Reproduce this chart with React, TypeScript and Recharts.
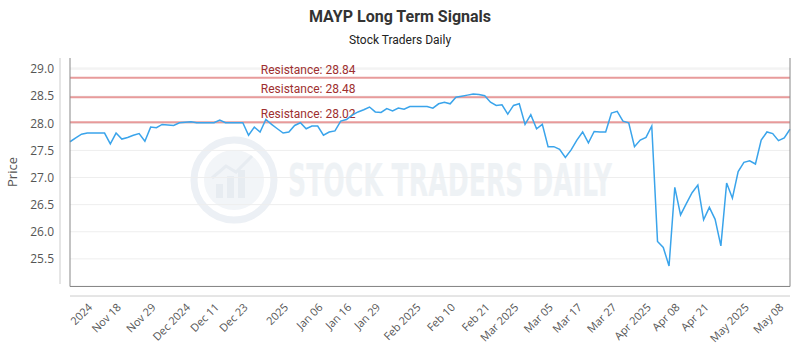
import React from 'react';
import {
    LineChart, Line, XAxis, YAxis, CartesianGrid, ReferenceLine,
} from 'recharts';

// daily closes (index = trading day)
const prices = [
    27.66, 27.73, 27.80, 27.82, 27.82, 27.82, 27.82, 27.62, 27.82, 27.71,
    27.74, 27.78, 27.81, 27.67, 27.93, 27.92, 27.98, 27.97, 27.96, 28.01,
    28.02, 28.03, 28.01, 28.01, 28.01, 28.01, 28.06, 28.01, 28.01, 28.01,
    28.01, 27.78, 27.93, 27.84, 28.07, 27.98, 27.90, 27.82, 27.84, 27.96,
    28.01, 27.90, 27.95, 27.95, 27.78, 27.84, 27.86, 28.04, 28.07, 28.15,
    28.21, 28.25, 28.30, 28.21, 28.20, 28.27, 28.23, 28.28, 28.26, 28.31,
    28.31, 28.31, 28.31, 28.28, 28.36, 28.39, 28.36, 28.48, 28.50, 28.52,
    28.54, 28.53, 28.51, 28.39, 28.33, 28.34, 28.17, 28.33, 28.36, 27.98,
    28.16, 27.90, 27.98, 27.57, 27.57, 27.52, 27.37, 27.51, 27.69, 27.84,
    27.64, 27.85, 27.84, 27.84, 28.19, 28.22, 28.04, 28.01, 27.57, 27.69,
    27.74, 27.95, 25.82, 25.71, 25.37, 26.82, 26.31, 26.52, 26.72, 26.86,
    26.22, 26.45, 26.23, 25.74, 26.90, 26.62, 27.11, 27.28, 27.31, 27.25,
    27.69, 27.84, 27.81, 27.68, 27.73, 27.89,
];

const tickIdx = [4, 9, 15, 21, 26, 31, 38, 44, 49, 54, 61, 67, 73, 78, 84, 89, 95, 101, 106, 111, 118, 124];
const tickLabels = [
    '2024', 'Nov 18', 'Nov 29', 'Dec 2024', 'Dec 11', 'Dec 23', '2025', 'Jan 06',
    'Jan 16', 'Jan 29', 'Feb 2025', 'Feb 10', 'Feb 21', 'Mar 2025', 'Mar 05',
    'Mar 17', 'Mar 27', 'Apr 2025', 'Apr 08', 'Apr 21', 'May 2025', 'May 08',
];

const yTicks = [25.5, 26, 26.5, 27, 27.5, 28, 28.5, 29];
const resistance = [28.84, 28.48, 28.02];

const data = prices.map((p, i) => ({ i, price: p }));

const FONT = '"Open Sans", sans-serif';

const XTick = ({ x, y, payload }: any) => {
    const label = tickLabels[tickIdx.indexOf(payload.value)] ?? '';
    const ty = Number(y) + 14;
    return (
        <text
            x={Number(x)}
            y={ty}
            textAnchor="end"
            fill="#555"
            fontSize={11}
            fontFamily={FONT}
            transform={`rotate(-45, ${Number(x)}, ${ty})`}
        >
            {label}
        </text>
    );
};

const ResLabel = ({ viewBox, value }: any) => {
    if (!viewBox) return null;
    return (
        <text
            x={viewBox.x + viewBox.width * 0.265}
            y={viewBox.y - 4}
            fill="#9e2f2f"
            fontSize={12}
            fontFamily="Roboto, sans-serif"
        >
            {`Resistance: ${value.toFixed(2)}`}
        </text>
    );
};

function Backdrop() {
    return (
        <svg width={800} height={350} style={{ position: 'absolute', left: 0, top: 0 }}>
            {/* watermark */}
            <g opacity={0.7}>
                <circle cx={234} cy={180} r={40} fill="none" stroke="#e4eaf1" strokeWidth={7} />
                <circle cx={234} cy={180} r={30} fill="#edf1f6" />
                <rect x={216} y={184} width={7} height={14} fill="#dde4ec" />
                <rect x={227} y={176} width={7} height={22} fill="#dde4ec" />
                <rect x={238} y={170} width={7} height={28} fill="#dde4ec" />
                <polyline points="212,178 226,166 236,172 252,156" fill="none" stroke="#dde4ec" strokeWidth={3} />
                <text
                    x={288}
                    y={196}
                    fontSize={44}
                    fontWeight={700}
                    fontFamily='"DejaVu Sans Condensed", "Liberation Sans Narrow", sans-serif'
                    fill="#e8edf2"
                    textLength={324}
                    lengthAdjust="spacingAndGlyphs"
                >
                    STOCK TRADERS DAILY
                </text>
            </g>
            {/* detached axis lines */}
            <line x1={60} y1={58} x2={60} y2={284} stroke="#ccc" strokeWidth={1} />
            <line x1={70} y1={296} x2={790} y2={296} stroke="#ccc" strokeWidth={1} />
            <text
                x={17}
                y={172}
                textAnchor="middle"
                fill="#555"
                fontSize={13}
                fontFamily={FONT}
                transform="rotate(-90, 17, 172)"
            >
                Price
            </text>
            <text x={400} y={22} textAnchor="middle" fill="#333" fontSize={16} fontWeight={700} fontFamily="Roboto, sans-serif">
                MAYP Long Term Signals
            </text>
            <text x={400} y={44} textAnchor="middle" fill="#222" fontSize={12} fontFamily="Roboto, sans-serif">
                Stock Traders Daily
            </text>
        </svg>
    );
}

export default function App() {
    return (
        <div style={{ position: 'absolute', left: 0, top: 0, width: 800, height: 350, background: '#fff' }}>
            <Backdrop />
            <div style={{ position: 'absolute', left: 0, top: 0 }}>
                <LineChart
                    width={800}
                    height={350}
                    data={data}
                    margin={{ top: 68, right: 10, left: 0, bottom: 0 }}
                >
                    <CartesianGrid stroke="#eeeeee" vertical={false} />
                    <XAxis
                        dataKey="i"
                        type="number"
                        domain={[0, prices.length - 1]}
                        ticks={tickIdx}
                        interval={0}
                        height={64}
                        axisLine={false}
                        tickLine={false}
                        tick={<XTick />}
                    />
                    <YAxis
                        type="number"
                        domain={[25, 29.02]}
                        ticks={yTicks}
                        width={70}
                        axisLine={false}
                        tickLine={false}
                        tickMargin={10}
                        tickFormatter={(v: number) => v.toFixed(1)}
                        tick={{ fill: '#555', fontSize: 12, fontFamily: FONT }}
                    />
                    {resistance.map(r => (
                        <ReferenceLine
                            key={r}
                            y={r}
                            stroke="#e07a7a"
                            strokeOpacity={0.75}
                            strokeWidth={2}
                            label={<ResLabel value={r} />}
                        />
                    ))}
                    <Line
                        type="linear"
                        dataKey="price"
                        stroke="#3aa4eb"
                        strokeWidth={1.5}
                        dot={false}
                        isAnimationActive={false}
                    />
                </LineChart>
            </div>
            {/* plot frame: left, right, bottom */}
            <svg width={800} height={350} style={{ position: 'absolute', left: 0, top: 0, pointerEvents: 'none' }}>
                <polyline points="70,58 70,286.5 790,286.5 790,58" fill="none" stroke="#888" strokeWidth={1} />
            </svg>
        </div>
    );
}
